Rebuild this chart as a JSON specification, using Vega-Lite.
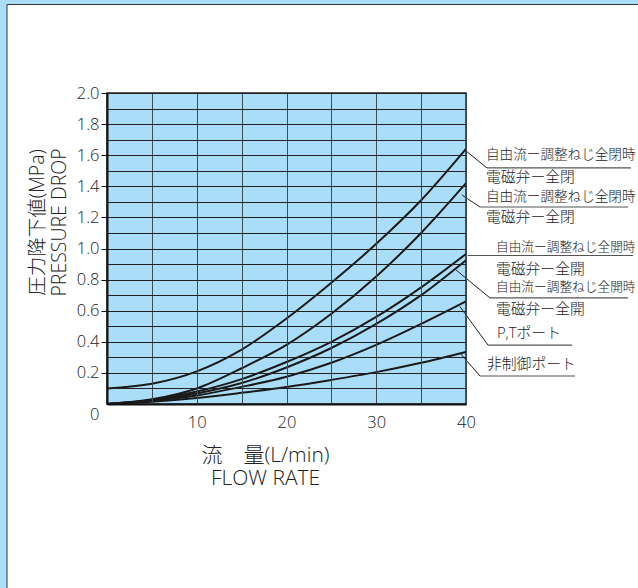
{
  "$schema": "https://vega.github.io/schema/vega-lite/v6.json",
  "width": 359,
  "height": 311,
  "autosize": {"type": "none"},
  "padding": {"left": 107, "top": 93, "right": 172, "bottom": 184},
  "background": "#aadef8",
  "config": {
    "view": {"stroke": null},
    "font": "Open Sans",
    "axis": {"labelOverlap": false}
  },
  "datasets": {
    "curves": [
      {"s": "A", "x": 0, "y": 0.10}, {"s": "A", "x": 5, "y": 0.13}, {"s": "A", "x": 10, "y": 0.21}, {"s": "A", "x": 15, "y": 0.35}, {"s": "A", "x": 20, "y": 0.55}, {"s": "A", "x": 25, "y": 0.78}, {"s": "A", "x": 30, "y": 1.03}, {"s": "A", "x": 35, "y": 1.31}, {"s": "A", "x": 40, "y": 1.64},
      {"s": "B", "x": 0, "y": 0}, {"s": "B", "x": 5, "y": 0.03}, {"s": "B", "x": 10, "y": 0.10}, {"s": "B", "x": 15, "y": 0.23}, {"s": "B", "x": 20, "y": 0.38}, {"s": "B", "x": 25, "y": 0.58}, {"s": "B", "x": 30, "y": 0.82}, {"s": "B", "x": 35, "y": 1.10}, {"s": "B", "x": 40, "y": 1.42},
      {"s": "C", "x": 0, "y": 0}, {"s": "C", "x": 5, "y": 0.025}, {"s": "C", "x": 10, "y": 0.08}, {"s": "C", "x": 15, "y": 0.16}, {"s": "C", "x": 20, "y": 0.27}, {"s": "C", "x": 25, "y": 0.40}, {"s": "C", "x": 30, "y": 0.56}, {"s": "C", "x": 35, "y": 0.75}, {"s": "C", "x": 40, "y": 0.965},
      {"s": "D", "x": 0, "y": 0}, {"s": "D", "x": 5, "y": 0.022}, {"s": "D", "x": 10, "y": 0.068}, {"s": "D", "x": 15, "y": 0.135}, {"s": "D", "x": 20, "y": 0.235}, {"s": "D", "x": 25, "y": 0.36}, {"s": "D", "x": 30, "y": 0.515}, {"s": "D", "x": 35, "y": 0.70}, {"s": "D", "x": 40, "y": 0.925},
      {"s": "E", "x": 0, "y": 0}, {"s": "E", "x": 5, "y": 0.02}, {"s": "E", "x": 10, "y": 0.055}, {"s": "E", "x": 15, "y": 0.11}, {"s": "E", "x": 20, "y": 0.175}, {"s": "E", "x": 25, "y": 0.265}, {"s": "E", "x": 30, "y": 0.38}, {"s": "E", "x": 35, "y": 0.515}, {"s": "E", "x": 40, "y": 0.66},
      {"s": "F", "x": 0, "y": 0}, {"s": "F", "x": 5, "y": 0.014}, {"s": "F", "x": 10, "y": 0.038}, {"s": "F", "x": 15, "y": 0.072}, {"s": "F", "x": 20, "y": 0.11}, {"s": "F", "x": 25, "y": 0.155}, {"s": "F", "x": 30, "y": 0.205}, {"s": "F", "x": 35, "y": 0.265}, {"s": "F", "x": 40, "y": 0.335}
    ],
    "labels": [
      {"x": 42.23, "y": 1.601, "t": "自由流ー調整ねじ全閉時"},
      {"x": 42.23, "y": 1.453, "t": "電磁弁ー全閉"},
      {"x": 42.23, "y": 1.331, "t": "自由流ー調整ねじ全閉時"},
      {"x": 42.23, "y": 1.196, "t": "電磁弁ー全閉"},
      {"x": 43.34, "y": 1.010, "t": "自由流ー調整ねじ全開時"},
      {"x": 43.34, "y": 0.862, "t": "電磁弁ー全開"},
      {"x": 43.34, "y": 0.752, "t": "自由流ー調整ねじ全開時"},
      {"x": 43.34, "y": 0.605, "t": "電磁弁ー全開"},
      {"x": 43.45, "y": 0.450, "t": "P,Tポート"},
      {"x": 42.34, "y": 0.251, "t": "非制御ポート"}
    ],
    "underlines": [
      {"x": 42.34, "y": 1.518, "x2": 58.38, "y2": 1.518},
      {"x": 41.56, "y": 1.267, "x2": 58.05, "y2": 1.267},
      {"x": 40.2, "y": 0.955, "x2": 58.6, "y2": 0.955},
      {"x": 42.67, "y": 0.682, "x2": 58.05, "y2": 0.682},
      {"x": 42.45, "y": 0.379, "x2": 51.81, "y2": 0.379},
      {"x": 41.56, "y": 0.180, "x2": 52.14, "y2": 0.180}
    ],
    "leaders": [
      {"x": 42.34, "y": 1.518, "x2": 39.89, "y2": 1.633},
      {"x": 41.56, "y": 1.267, "x2": 39.55, "y2": 1.344},
      {"x": 42.67, "y": 0.682, "x2": 38.89, "y2": 0.862},
      {"x": 42.45, "y": 0.379, "x2": 39.33, "y2": 0.626},
      {"x": 41.56, "y": 0.180, "x2": 39.33, "y2": 0.328}
    ]
  },
  "layer": [
    {
      "data": {"values": [{}]},
      "mark": {"type": "rect", "fill": "#ffffff", "stroke": "#333333", "strokeWidth": 1, "clip": false},
      "encoding": {
        "x": {
          "datum": -11.14, "type": "quantitative",
          "scale": {"domain": [0, 40], "nice": false, "zero": false},
          "axis": {
            "zindex": 1,
            "values": [0, 5, 10, 15, 20, 25, 30, 35, 40],
            "tickCount": 30,
            "labelExpr": "datum.value > 0 && datum.value % 10 == 0 ? datum.label : ''",
            "labelFont": "Open Sans", "labelFontSize": 16.5, "labelFontWeight": 300, "labelColor": "#222222",
            "labelPadding": 10, "labelOverlap": false, "labelFlush": false,
            "ticks": false,
            "domainColor": "#111111", "domainWidth": 2,
            "grid": true, "gridColor": "#3d4b55", "gridWidth": 1, "gridOpacity": 1,
            "title": ["流　量(L/min)", "FLOW RATE"],
            "titleFont": "'Open Sans', 'Noto Sans CJK JP'", "titleFontSize": 21, "titleFontWeight": 300, "titleColor": "#222222",
            "titleAnchor": null, "titleAlign": "center", "titleBaseline": "alphabetic",
            "titleX": 158, "titleY": 57, "titleLineHeight": 23
          }
        },
        "x2": {"datum": 80},
        "y": {
          "datum": 2.569, "type": "quantitative",
          "scale": {"domain": [0, 2], "nice": false, "zero": false},
          "axis": {
            "zindex": 1,
            "values": [0, 0.1, 0.2, 0.3, 0.4, 0.5, 0.6, 0.7, 0.8, 0.9, 1.0, 1.1, 1.2, 1.3, 1.4, 1.5, 1.6, 1.7, 1.8, 1.9, 2.0],
            "tickCount": 40,
            "labelExpr": "datum.value == 0 ? '0' : (round(datum.value * 10) % 2 == 0 ? format(datum.value, '.1f') : '')",
            "labelFont": "Open Sans", "labelFontSize": 16.5, "labelFontWeight": 300, "labelColor": "#222222",
            "labelPadding": 2, "labelOverlap": false, "labelFlush": false,
            "labelOffset": {"condition": {"test": "datum.value == 0", "value": 10}, "value": 0},
            "tickSize": 6, "tickColor": "#111111", "tickWidth": 1,
            "tickOpacity": {"condition": {"test": "datum.value > 0 && round(datum.value * 10) % 2 == 0", "value": 1}, "value": 0},
            "domainColor": "#111111", "domainWidth": 2,
            "grid": true, "gridColor": "#222222", "gridWidth": 1, "gridOpacity": 1,
            "title": ["圧力降下値(MPa)", "PRESSURE DROP"],
            "titleFont": "'Open Sans', 'Noto Sans CJK JP'", "titleFontSize": 19.5, "titleFontWeight": 300, "titleColor": "#222222",
            "titleAnchor": null, "titleAngle": -90, "titleAlign": "center", "titleBaseline": "alphabetic",
            "titleX": -64, "titleY": 129, "titleLineHeight": 22
          }
        },
        "y2": {"datum": -3}
      }
    },
    {
      "data": {"values": [{}]},
      "mark": {"type": "rect", "fill": "#aadef8", "stroke": "#222222", "strokeWidth": 1.5},
      "encoding": {
        "x": {"datum": 0, "type": "quantitative"},
        "x2": {"datum": 40},
        "y": {"datum": 0, "type": "quantitative"},
        "y2": {"datum": 2}
      }
    },
    {
      "data": {"name": "curves"},
      "mark": {"type": "line", "interpolate": "monotone", "color": "#1a1a1a", "strokeWidth": 2},
      "encoding": {
        "x": {"field": "x", "type": "quantitative"},
        "y": {"field": "y", "type": "quantitative"},
        "detail": {"field": "s"}
      }
    },
    {
      "data": {"name": "underlines"},
      "mark": {"type": "rule", "color": "#555555", "strokeWidth": 1.2, "clip": false},
      "encoding": {
        "x": {"field": "x", "type": "quantitative"},
        "y": {"field": "y", "type": "quantitative"},
        "x2": {"field": "x2"},
        "y2": {"field": "y2"}
      }
    },
    {
      "data": {"name": "leaders"},
      "mark": {"type": "rule", "color": "#222222", "strokeWidth": 1, "clip": false},
      "encoding": {
        "x": {"field": "x", "type": "quantitative"},
        "y": {"field": "y", "type": "quantitative"},
        "x2": {"field": "x2"},
        "y2": {"field": "y2"}
      }
    },
    {
      "data": {"name": "labels"},
      "mark": {"type": "text", "align": "left", "baseline": "middle", "font": "'Open Sans', 'Noto Sans CJK JP'", "fontWeight": 300, "color": "#222222", "clip": false},
      "encoding": {
        "x": {"field": "x", "type": "quantitative"},
        "y": {"field": "y", "type": "quantitative"},
        "text": {"field": "t"},
        "size": {
          "condition": [
            {"test": "indexof(datum.t, '自由流') >= 0 && datum.x > 43", "value": 12.7},
            {"test": "indexof(datum.t, '自由流') >= 0", "value": 13.6}
          ],
          "value": 14.8
        }
      }
    }
  ]
}
